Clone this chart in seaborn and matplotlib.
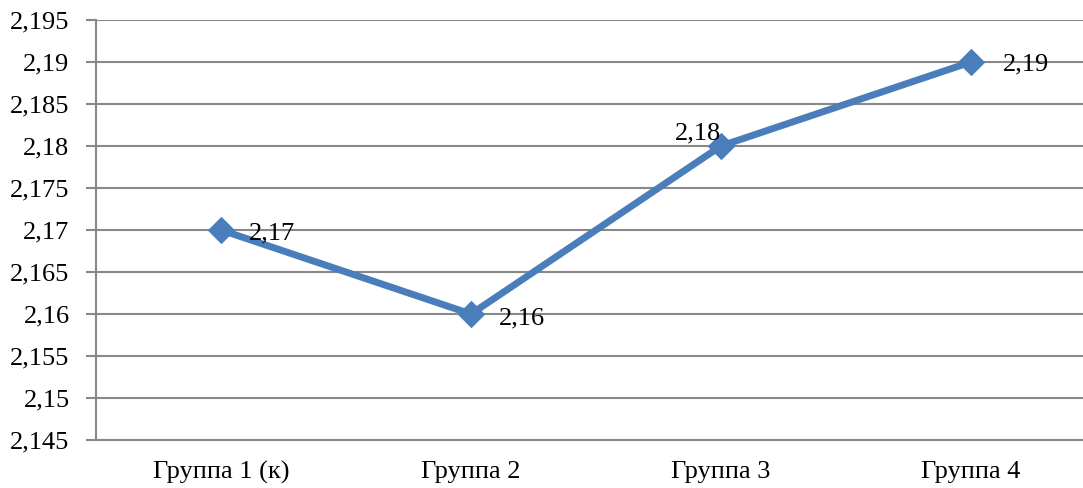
import matplotlib
matplotlib.use("Agg")
import numpy as np
import pandas as pd
import matplotlib.pyplot as plt
import seaborn as sns
from matplotlib.ticker import FuncFormatter, MultipleLocator

groups = ["Группа 1 (к)", "Группа 2", "Группа 3", "Группа 4"]
values = [2.17, 2.16, 2.18, 2.19]
labels = ["2,17", "2,16", "2,18", "2,19"]
# label offsets in pixels (dx, dy) and horizontal alignment
label_offsets = [(28, -3, "left"), (28, -4, "left"), (0, 13, "right"), (32, -2, "left")]

sns.set_style("white")
plt.rcParams["font.family"] = ["Liberation Serif", "DejaVu Serif"]

fig = plt.figure(figsize=(10.83, 4.88), dpi=100)
ax = fig.add_axes([96 / 1083, 48 / 488, 1000 / 1083, 420 / 488])

df = pd.DataFrame({"group": groups, "value": values, "x": np.arange(len(groups))})
line_color = "#4A7EBB"
sns.lineplot(data=df, x="x", y="value", ax=ax, color=line_color, linewidth=5,
             marker="D", markersize=13, markeredgecolor=line_color, zorder=3)

for (xi, yi, lab, (dx, dy, ha)) in zip(df["x"], values, labels, label_offsets):
    ax.annotate(lab, (xi, yi), xytext=(dx * 0.72, dy * 0.72), textcoords="offset points",
                ha=ha, va="center", fontsize=19, color="black", zorder=4)

ax.set_xlim(-0.5, 3.5)
ax.set_ylim(2.145, 2.195)
ax.yaxis.set_major_locator(MultipleLocator(0.005))
ax.yaxis.set_major_formatter(FuncFormatter(lambda v, p: f"{v:.3f}".rstrip("0").replace(".", ",")))
ax.yaxis.grid(True, color="#888888", linewidth=1.5)
ax.set_axisbelow(True)

ax.set_xticks(np.arange(len(groups)))
ax.set_xticklabels(groups)
ax.set_xticks(np.arange(-0.5, 3.6, 1.0), minor=True)
ax.tick_params(axis="x", which="major", length=0, pad=15, labelsize=19, labelcolor="black")
ax.tick_params(axis="x", which="minor", length=6, width=1.5, color="#888888", direction="out")
ax.tick_params(axis="y", length=7, width=1.5, color="#888888", pad=12, labelsize=19,
               labelcolor="black", left=True)

for side in ["top", "right"]:
    ax.spines[side].set_visible(False)
for side in ["left", "bottom"]:
    ax.spines[side].set_color("#888888")
    ax.spines[side].set_linewidth(1.5)

ax.set_xlabel("")
ax.set_ylabel("")

fig.savefig("out.png", dpi=100)
